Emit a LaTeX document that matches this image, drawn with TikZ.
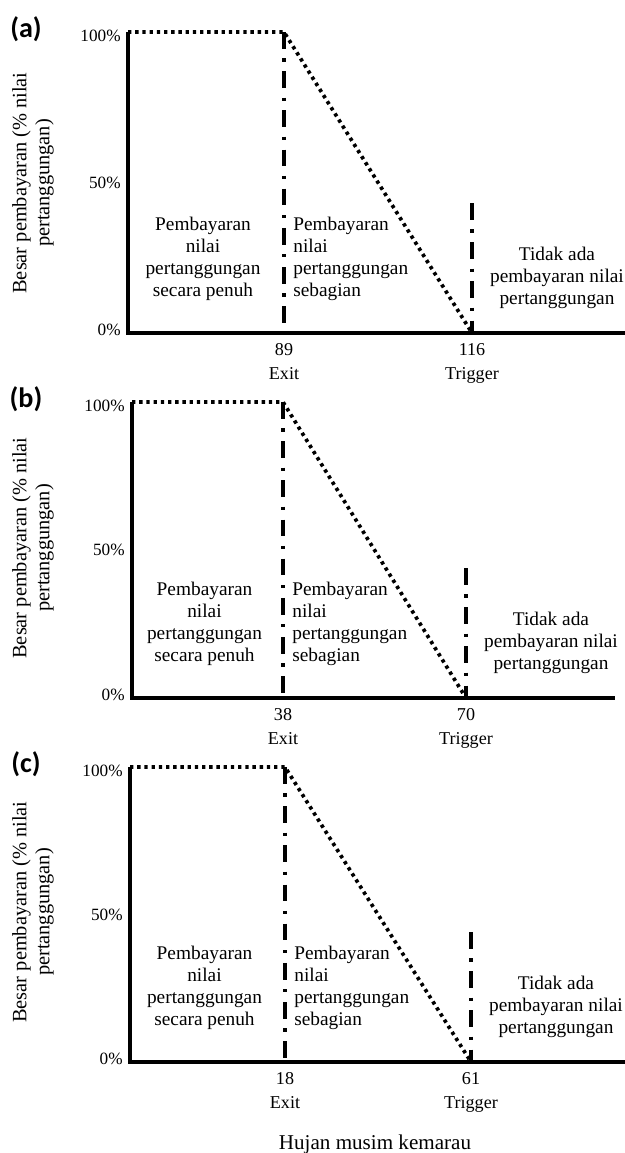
\documentclass[tikz,border=0pt]{standalone}
\usepackage{fontspec}
\setmainfont{Liberation Serif}
\newfontfamily\panelfont{Carlito}
\usetikzlibrary{positioning}

\begin{document}
\begin{tikzpicture}[x=0.02cm, y=-0.02cm,
    axis/.style={line width=2pt},
    payout/.style={line width=2.1pt, dash pattern=on 1.9pt off 2.2pt},
    limit/.style={line width=2.1pt, dash pattern=on 9.5pt off 5.5pt on 1.8pt off 5.5pt},
    pct/.style={anchor=east, inner sep=0pt, font=\fontsize{9.8}{11}\selectfont},
    tick/.style={anchor=base, inner sep=0pt, font=\fontsize{10.3}{12}\selectfont},
    region/.style={inner sep=0pt, align=center, font=\fontsize{11}{12.6}\selectfont},
    panel/.style={inner sep=0pt, font=\panelfont\bfseries\fontsize{16}{18}\selectfont},
    ylab/.style={rotate=90, inner sep=0pt, align=center, font=\fontsize{11.6}{13}\selectfont}]

    \useasboundingbox (0,0) rectangle (625,1153);

    % three panels (a), (b), (c): same layout, different exit / trigger
    \foreach \pl/\ax/\ay/\yt/\xe/\xt/\xr/\ve/\vt in
        {a/128/333/32/284/472/625/89/116,
         b/132/698/402/283/466/615/38/70,
         c/130/1062/767/285/471/625/18/61}{

      % axes
      \draw[axis] (\ax,\yt) -- (\ax,\ay) -- (\xr,\ay);
      % payout: 100% up to exit, then down to 0 at trigger
      \draw[payout] (\ax,\yt) -- (\xe,\yt) -- (\xt,\ay);
      % exit and trigger lines
      \draw[limit] (\xe,\yt) -- (\xe,\ay);
      \draw[limit] (\xt,{\ay-130}) -- (\xt,\ay);

      % panel letter and y labels
      \node[panel] (lab-\pl) at (26,{\yt-3}) {(\pl)};
      \node[pct] (p100-\pl) at ({\ax-7},{\yt+4}) {100\%};
      \node[pct] (p50-\pl) at ({\ax-7},{(\yt+\ay)/2}) {50\%};
      \node[pct] (p0-\pl) at ({\ax-7},{\ay-3}) {0\%};
      \node[ylab] (ylab-\pl) at (33,{\ay-150}) {Besar pembayaran (\% nilai\\pertanggungan)};

      % ticks on the x axis
      \node[tick] (ev-\pl) at (\xe,{\ay+22}) {\ve};
      \node[tick] (en-\pl) at (\xe,{\ay+46}) {Exit};
      \node[tick] (tv-\pl) at (\xt,{\ay+22}) {\vt};
      \node[tick] (tn-\pl) at (\xt,{\ay+46}) {Trigger};

      % the three regions
      \node[region] (full-\pl) at ({(\ax+\xe)/2-3},{\ay-74})
          {Pembayaran\\nilai\\pertanggungan\\secara penuh};
      \node[region, align=left, anchor=west] (part-\pl) at ({\xe+9},{\ay-74})
          {Pembayaran\\nilai\\pertanggungan\\sebagian};
      \node[region] (none-\pl) at ({\xt+85},{\ay-55})
          {Tidak ada\\pembayaran nilai\\pertanggungan};
    }

    % x axis title
    \node[anchor=base, font=\fontsize{12}{14}\selectfont] (xlab) at (375,1149) {Hujan musim kemarau};

\end{tikzpicture}
\end{document}
